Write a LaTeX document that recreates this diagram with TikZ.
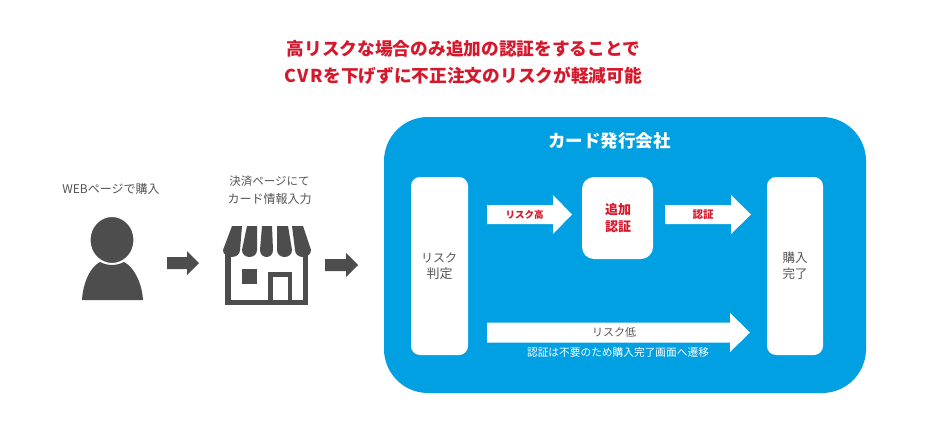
\documentclass[tikz,border=0pt]{standalone}
\usepackage{fontspec}
\usetikzlibrary{shapes.geometric}
\setmainfont{Noto Sans CJK JP}
\definecolor{cblue}{RGB}{0,160,226}
\definecolor{cred}{RGB}{214,24,44}
\definecolor{cdark}{RGB}{77,77,77}
\definecolor{ctext}{RGB}{85,85,85}
\newcommand{\fsz}[1]{\fontsize{#1}{#1}\selectfont}
\tikzset{
  lbl/.style={inner sep=0pt,align=center,text=ctext},
}
% name, x1, x2, yc, shaft half, head half, head length, colour
\newcommand{\blockarrow}[8]{%
  \coordinate (#1-s) at (#2,#4);
  \coordinate (#1-t) at (#3,#4);
  \fill[#8] (#1-s) ++(0,-#5) -- ++(#3-#2-#7,0) -- ++(0,#5-#6) -- (#1-t)
     -- ++(-#7,#6) -- ++(0,#5-#6) -- ++(#2-#3+#7,0) -- cycle;
}
\begin{document}
\begin{tikzpicture}[x=1pt,y=-1pt]
\path[use as bounding box,fill=white] (0,0) rectangle (936,436);
% title
\node[lbl,text=cred,font=\fsz{17.7}\bfseries] (t1) at (463.5,49) {高リスクな場合のみ追加の認証をすることで};
\node[lbl,text=cred,font=\fsz{17.7}\bfseries] (t2) at (463,76) {C\kern1.5pt V\kern1.5pt R\kern0.5pt を下げずに不正注文のリスクが軽減可能};
% left labels
\node[lbl,font=\fsz{12}] (web) at (111,189) {WEBページで購入};
\node[lbl,font=\fsz{11.5}] (pay1) at (269.5,181.5) {決済ページにて};
\node[lbl,font=\fsz{12}] (pay2) at (269.5,199) {カード情報入力};
% person
\fill[cdark] (82,300) .. controls (83,283) and (90,267) .. (100,262) .. controls (108,266) and (116,266) .. (124,262) .. controls (134,267) and (142,283) .. (143,300) -- cycle;
\node[ellipse,fill=cdark,draw=white,line width=1pt,minimum width=44pt,minimum height=47pt,inner sep=0pt] (head) at (112,240) {};
% store
\fill[cdark] (225,250) rectangle (230.5,305);
\fill[cdark] (302.5,250) rectangle (308,305);
\fill[cdark] (225,300) rectangle (308,305);
\fill[cdark] (242,269) rectangle (257,284);
\fill[cdark] (268,272) rectangle (292,305);
\fill[white] (272.5,276.5) rectangle (287.5,300);
\foreach \a/\b/\c/\d in {232/242/223/240, 247/257/242/257, 262/272/260/273, 277/288/277/292, 292/303/295/311}{
  \fill[cdark] (\a,226) -- (\b,226) -- (\d,250) .. controls (\d,259.3) and (\c,259.3) .. (\c,250) -- cycle;
}
% left arrows
\blockarrow{a1}{167}{199}{263}{6}{12}{12}{cdark}
\blockarrow{a2}{325}{358}{265}{6}{12}{12}{cdark}
% card issuer panel
\fill[cblue,rounded corners=44pt] (384,117) rectangle (866,393);
\node[lbl,text=white,font=\fsz{17.5}\bfseries] (issuer) at (609.5,141) {カード発行会社};
\fill[white,rounded corners=9pt] (411,177) rectangle (468,355);
\fill[white,rounded corners=12pt] (582,177) rectangle (653,259);
\fill[white,rounded corners=9pt] (767,177) rectangle (823,355);
\node[lbl,font=\fsz{12}] (risk1) at (439,257.5) {リスク};
\node[lbl,font=\fsz{13}] (risk2) at (439.5,274) {判定};
\node[lbl,text=cred,font=\fsz{13}\bfseries] (add1) at (618,210) {追加};
\node[lbl,text=cred,font=\fsz{13}\bfseries] (add2) at (618,227) {認証};
\node[lbl,font=\fsz{12.5}] (done1) at (795,258) {購入};
\node[lbl,font=\fsz{12.5}] (done2) at (795,274) {完了};
% arrows in panel
\blockarrow{a3}{487}{572}{214.5}{9.5}{19.5}{19}{white}
\blockarrow{a4}{665}{751}{214.5}{9.5}{19.5}{20}{white}
\blockarrow{a5}{487}{750}{332.5}{10}{19.5}{20}{white}
\node[lbl,text=cred,font=\fsz{9.5}\bfseries] (l3) at (524.5,215) {リスク高};
\node[lbl,text=cred,font=\fsz{10.5}\bfseries] (l4) at (703,215) {認証};
\node[lbl,font=\fsz{11}] (l5) at (614,332) {リスク低};
\node[lbl,text=white,font=\fsz{10.7}] (l6) at (618,352.5) {認証は不要のため購入完了画面へ遷移};
\end{tikzpicture}
\end{document}
